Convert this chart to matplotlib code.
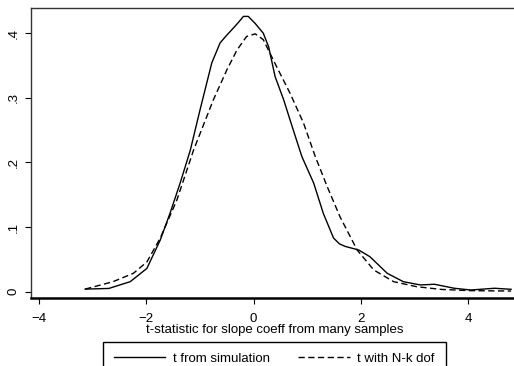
import numpy as np
import matplotlib.pyplot as plt

plt.rcParams['font.family'] = ['Liberation Sans', 'DejaVu Sans']

# kernel density of t from simulation
sim_t = [-3.14, -2.70, -2.30, -1.99, -1.74, -1.56, -1.37, -1.18, -1.00, -0.78,
         -0.625, -0.50, -0.377, -0.28, -0.19, -0.10, 0.03, 0.18, 0.28, 0.40,
         0.56, 0.74, 0.90, 1.12, 1.30, 1.49, 1.60, 1.71, 1.96, 2.17,
         2.49, 2.79, 3.11, 3.37, 3.74, 4.05, 4.49, 4.80]
sim_d = [0.004, 0.005, 0.0155, 0.036, 0.080, 0.121, 0.168, 0.219, 0.281, 0.354,
         0.385, 0.397, 0.408, 0.417, 0.426, 0.426, 0.415, 0.400, 0.379, 0.333,
         0.297, 0.250, 0.209, 0.168, 0.121, 0.083, 0.074, 0.070, 0.0645, 0.054,
         0.0285, 0.0155, 0.0104, 0.0115, 0.0053, 0.0026, 0.0053, 0.0037]

# t density with N-k dof
tdist_t = [-3.14, -2.62, -2.24, -1.99, -1.74, -1.43, -1.12, -0.75, -0.50, -0.31,
           -0.13, 0.03, 0.18, 0.43, 0.68, 0.93, 1.15, 1.37, 1.61, 1.93,
           2.24, 2.61, 3.04, 3.50, 4.05, 4.80]
tdist_d = [0.004, 0.0155, 0.0285, 0.046, 0.083, 0.142, 0.219, 0.297, 0.343, 0.374,
           0.395, 0.399, 0.390, 0.348, 0.307, 0.261, 0.209, 0.163, 0.116, 0.0645,
           0.0336, 0.0155, 0.0077, 0.0035, 0.0016, 0.001]

xticks = [-4, -2, 0, 2, 4]
yticks = [0, 0.1, 0.2, 0.3, 0.4]
yticklabels = ['0', '.1', '.2', '.3', '.4']

fig = plt.figure(figsize=(5.14, 3.66), dpi=100)
ax = fig.add_axes([31 / 514, 1 - 297.5 / 366, 1.01 - 31 / 514, (297.5 - 8) / 366])

ax.plot(sim_t, sim_d, color='black', lw=1.0, label='t from simulation')
ax.plot(tdist_t, tdist_d, color='black', lw=1.0, dashes=(4.5, 2.5), label='t with N-k dof')

ax.set_xlim(-4.15, 4.95)
ax.set_ylim(-0.009, 0.439)
ax.set_xticks(xticks)
ax.set_yticks(yticks)
ax.set_yticklabels(yticklabels, rotation=90, va='center')
ax.tick_params(axis='both', labelsize=9.5, length=4.3, width=0.8, colors='black')
ax.tick_params(axis='x', pad=6.5)
ax.tick_params(axis='y', pad=4)
ax.set_xlabel('t-statistic for slope coeff from many samples', fontsize=9.5, labelpad=0)

for s in ['left', 'top']:
    ax.spines[s].set_linewidth(1.0)
    ax.spines[s].set_color('#333333')
ax.spines['bottom'].set_linewidth(1.8)
ax.spines['right'].set_visible(False)

fig.legend(loc='upper center', bbox_to_anchor=(274.5 / 514, 1 - 342 / 366), ncol=2,
           fontsize=9.5, frameon=True, fancybox=False, edgecolor='black', framealpha=1,
           handlelength=3.9, handletextpad=0.6, columnspacing=2.1, borderpad=0.8,
           borderaxespad=0)

fig.savefig('out.png', dpi=100)
